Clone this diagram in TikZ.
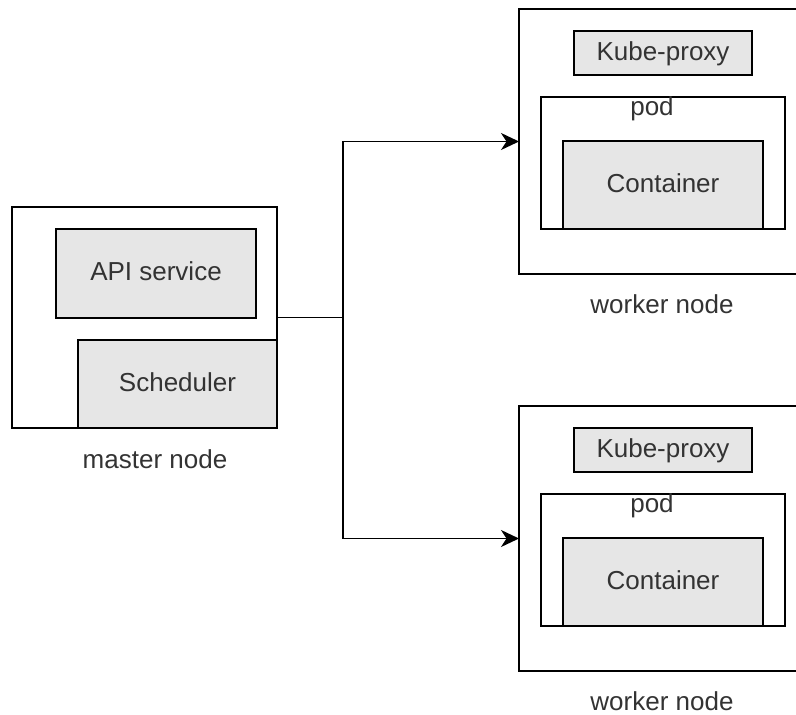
\documentclass[tikz,border=0pt]{standalone}
\usepackage{fontspec}
\setmainfont{Liberation Sans}
\usetikzlibrary{arrows.meta}
\definecolor{boxfill}{HTML}{E6E6E6}
\definecolor{txt}{HTML}{333333}
\begin{document}
\begin{tikzpicture}[x=1pt,y=-1pt,
  every node/.style={font=\fontsize{26}{31}\selectfont, text=txt, inner sep=0pt, outer sep=0pt},
  frame/.style={draw=black, line width=1.9pt, anchor=north west},
  part/.style={frame, fill=boxfill, text height=20pt, text depth=5.2pt},
  caption/.style={anchor=base},
  link/.style={draw=black, line width=1.9pt, line join=miter},
  arrowlink/.style={link, -{Stealth[length=18pt,width=17pt,inset=5.5pt]}}
]
\clip (0,0) rectangle (796,715);

% master node with its two components
\node[frame, minimum width=265pt, minimum height=221pt] (master) at (12,207) {};
\node[part, minimum width=200pt, minimum height=89pt] (api) at (56,229) {API service};
\node[part, minimum width=199pt, minimum height=88pt] (sched) at (78,340) {Scheduler};
\node[caption] (mlabel) at (155,468) {master node};

% two identical worker nodes, the second one 397 units lower
\foreach \i/\dy in {1/0, 2/397} {
  \node[frame, minimum width=290pt, minimum height=265pt] (w\i) at (519,9+\dy) {};
  \node[part, minimum width=178pt, minimum height=44pt] (kp\i) at (574,31+\dy) {Kube-proxy};
  \node[frame, fill=white, minimum width=244pt, minimum height=132pt] (pod\i) at (541,97+\dy) {};
  \node[caption] (podlabel\i) at (652,115+\dy) {pod};
  \node[part, minimum width=200pt, minimum height=88pt] (ct\i) at (563,141+\dy) {Container};
  \node[caption] (wlabel\i) at (662,313+\dy) {worker node};
}

% connectors from the master to both workers
\coordinate (fork) at (343,317.5);
\draw[link] (master.east) -- (fork);
\draw[arrowlink] (fork) |- (w1.west);
\draw[arrowlink] (fork) |- (w2.west);
\end{tikzpicture}
\end{document}
